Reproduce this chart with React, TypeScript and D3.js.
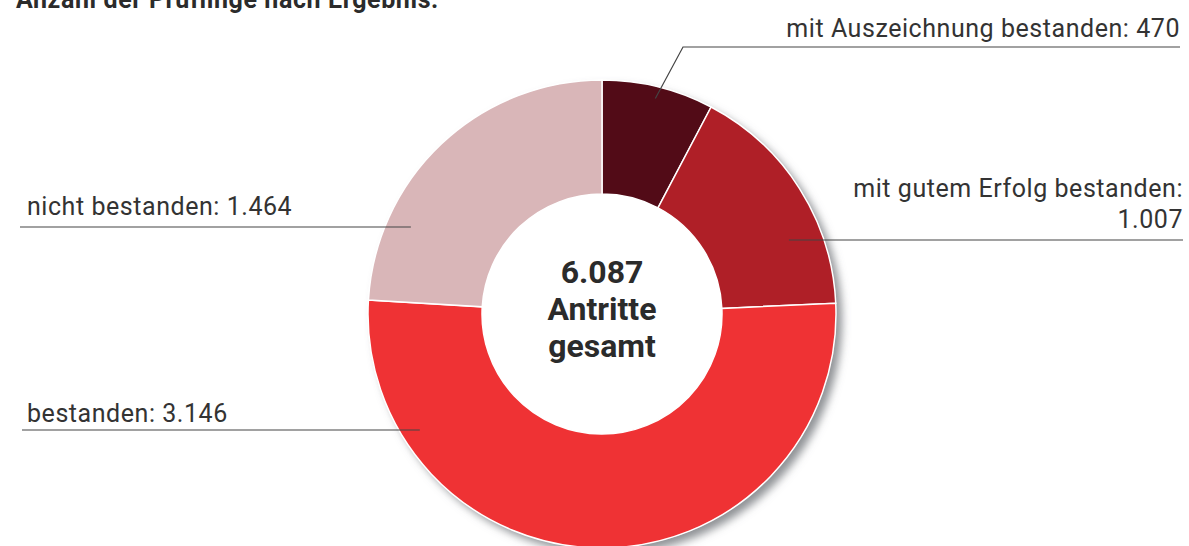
import React, { useEffect, useRef } from 'react';
import * as d3 from 'd3';

// data
const categories = [
  'mit Auszeichnung bestanden',
  'mit gutem Erfolg bestanden',
  'bestanden',
  'nicht bestanden',
];
const values = [470, 1007, 3146, 1464];
const colors = ['#520b17', '#af1f27', '#ef3234', '#d9b6b8'];
const totalLabel = ['6.087', 'Antritte', 'gesamt'];
const title = 'Anzahl der Prüflinge nach Ergebnis:';

const fmt = (v: number) => v.toLocaleString('de-DE');

function App() {
  const ref = useRef<SVGSVGElement | null>(null);
  const width = 1189;
  const height = 546;

  useEffect(() => {
    drawChart();
  }, []);

  function drawChart() {
    const svg = d3.select(ref.current);
    svg.selectAll('*').remove();

    const cx = 602;
    const cy = 314;
    const outer = 234;
    const inner = 120;
    const font = 'Roboto, "DejaVu Sans", sans-serif';
    const textColor = '#333';

    const defs = svg.append('defs');
    const filter = defs.append('filter')
      .attr('id', 'ring-shadow')
      .attr('x', '-20%').attr('y', '-20%')
      .attr('width', '140%').attr('height', '140%');
    filter.append('feDropShadow')
      .attr('dx', 6).attr('dy', 6)
      .attr('stdDeviation', 4)
      .attr('flood-color', '#6b6e73')
      .attr('flood-opacity', 0.75);

    svg.append('text')
      .attr('x', 16).attr('y', 8)
      .attr('font-family', font)
      .attr('font-weight', 700)
      .attr('font-size', 25)
      .attr('letter-spacing', 0.6)
      .attr('fill', '#2b2b2b')
      .text(title);

    const g = svg.append('g').attr('transform', `translate(${cx},${cy})`);

    // shadow disc behind the ring
    g.append('circle')
      .attr('r', outer)
      .attr('fill', '#fff')
      .attr('filter', 'url(#ring-shadow)');

    const pie = d3.pie<number>().sort(null).value(d => d);
    const arcs = pie(values);
    const arc = d3.arc<d3.PieArcDatum<number>>()
      .innerRadius(inner)
      .outerRadius(outer);

    g.selectAll('path.slice')
      .data(arcs)
      .enter().append('path')
      .attr('class', 'slice')
      .attr('d', arc)
      .attr('fill', (d, i) => colors[i])
      .attr('stroke', '#fff')
      .attr('stroke-width', 1.5);

    g.append('circle').attr('r', inner - 0.5).attr('fill', '#fff');

    // centre text
    g.selectAll('text.total')
      .data(totalLabel)
      .enter().append('text')
      .attr('class', 'total')
      .attr('x', 0)
      .attr('y', (d, i) => -31 + i * 37)
      .attr('text-anchor', 'middle')
      .attr('font-family', font)
      .attr('font-weight', 700)
      .attr('font-size', 32)
      .attr('fill', '#2b2b2b')
      .text(d => d);

    // label layout (positions only)
    const layout = [
      { anchor: 'end', x: 1180, lines: [37], lineY: 47, lineX: 683, r: 222, diag: true },
      { anchor: 'end', x: 1183, lines: [197, 228], lineY: 240, lineX: 1183, r: 201, diag: false },
      { anchor: 'start', x: 27, lines: [422], lineY: 430, lineX: 22, r: 216, diag: false },
      { anchor: 'start', x: 27, lines: [215], lineY: 227, lineX: 20, r: 210, diag: false },
    ];

    arcs.forEach((a, i) => {
      const L = layout[i];
      const label = `${categories[i]}: ${fmt(values[i])}`;
      const parts = L.lines.length > 1
        ? [`${categories[i]}:`, fmt(values[i])]
        : [label];

      parts.forEach((p, j) => {
        svg.append('text')
          .attr('x', L.x)
          .attr('y', L.lines[j])
          .attr('text-anchor', L.anchor)
          .attr('font-family', font)
          .attr('font-size', 25)
          .attr('letter-spacing', 0.55)
          .attr('fill', textColor)
          .text(p);
      });

      const mid = (a.startAngle + a.endAngle) / 2;
      let pts: [number, number][];
      if (L.diag) {
        const px = cx + L.r * Math.sin(mid);
        const py = cy - L.r * Math.cos(mid);
        pts = [[1180, L.lineY], [L.lineX, L.lineY], [px, py]];
      } else {
        const dy = L.lineY - cy;
        const dx = Math.sqrt(L.r * L.r - dy * dy);
        const side = Math.sin(mid) >= 0 ? 1 : -1;
        pts = [[L.lineX, L.lineY], [cx + side * dx, L.lineY]];
      }
      svg.append('path')
        .attr('d', d3.line()(pts))
        .attr('fill', 'none')
        .attr('stroke', '#444')
        .attr('stroke-width', 1.2);
    });
  }

  return (
    <svg
      ref={ref}
      width={width}
      height={height}
      style={{ position: 'absolute', left: 0, top: 0, background: '#fff' }}
    />
  );
}

export default App;
